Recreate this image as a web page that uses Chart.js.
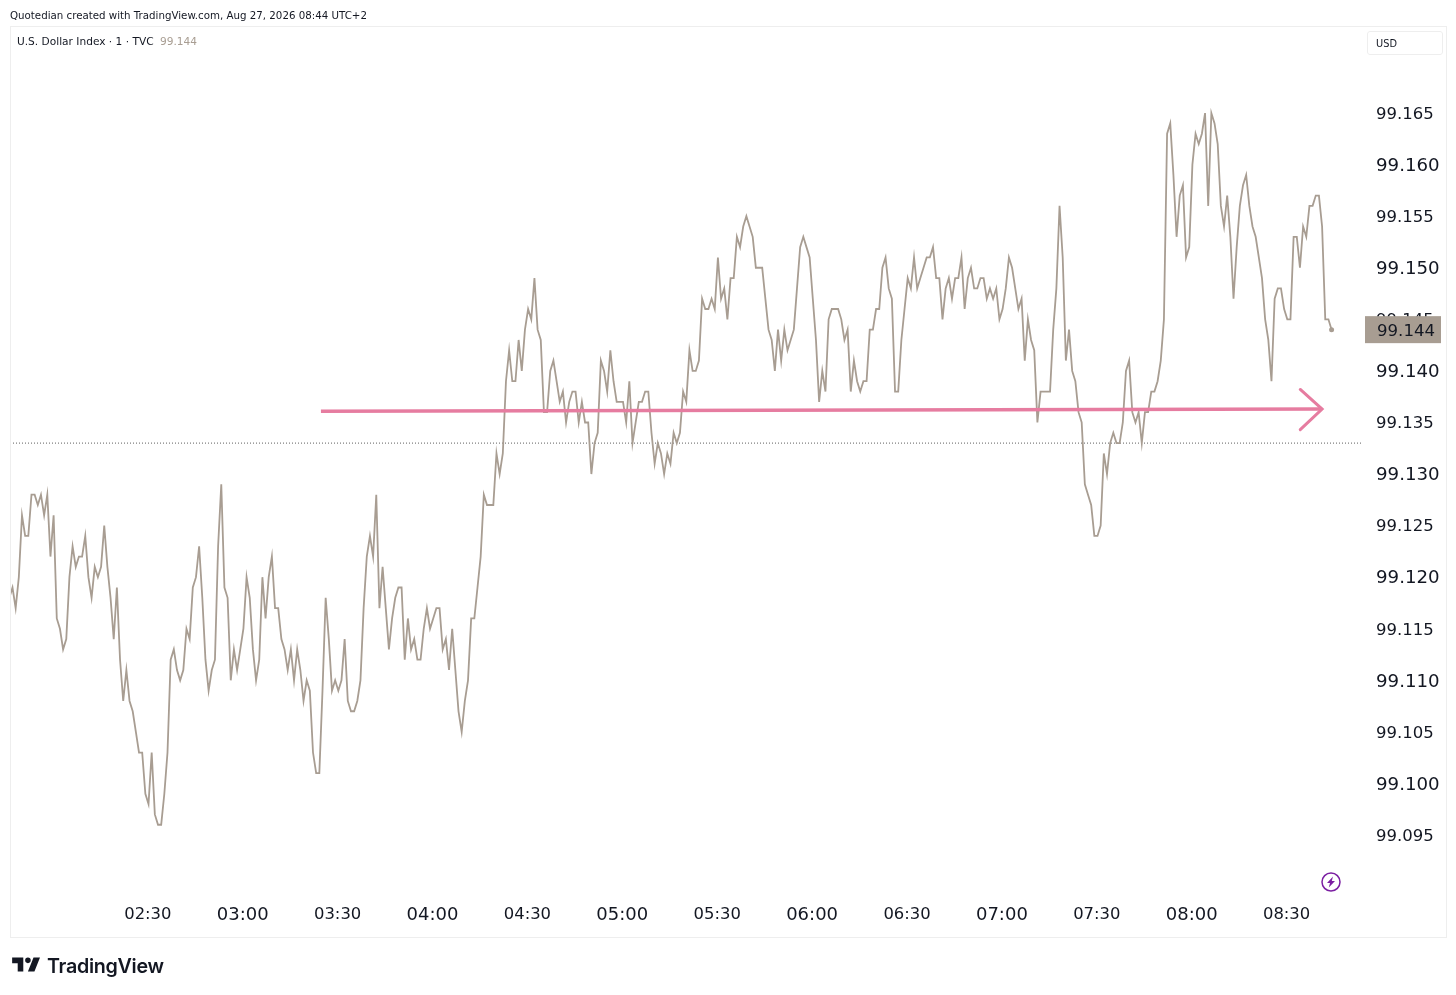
<!DOCTYPE html>
<html>
<head>
<meta charset="utf-8">
<title>U.S. Dollar Index</title>
<script src="https://cdn.jsdelivr.net/npm/chart.js@4"></script>
<style>
    html, body { margin: 0; padding: 0; background: #fff; }
    body { width: 1456px; height: 995px; position: relative; overflow: hidden; font-family: 'DejaVu Sans', sans-serif; color: #131722; }
    #wrap { position: absolute; left: 0; top: 0; width: 1456px; height: 995px; }
    #frame { position: absolute; left: 10px; top: 26px; width: 1435px; height: 910px; border: 1px solid #eeeeee; }
    .txt { position: absolute; white-space: nowrap; }
    #head { left: 10px; top: 8px; font-size: 10.25px; line-height: 14px; }
    #legend { left: 17px; top: 34px; font-size: 10.6px; line-height: 14px; }
    #legend span { color: #a89d92; margin-left: 3px; }
    #usd { left: 1367px; top: 31px; width: 66px; height: 22px; padding-left: 8px; line-height: 23px; font-size: 9.8px; border: 1px solid #eeeeee; border-radius: 3px; }
    #brand { left: 47px; top: 952px; font-family: Inter, sans-serif; font-weight: 600; font-size: 19.7px; line-height: 28px; letter-spacing: -0.3px; }
    #logo { position: absolute; left: 10px; top: 952px; }
    #bolt { position: absolute; left: 1320px; top: 871px; }
</style>
</head>
<body>
<div id="wrap"><canvas id="dxyChart"></canvas></div>
<div id="frame"></div>
<div class="txt" id="head">Quotedian created with TradingView.com, Aug 27, 2026 08:44 UTC+2</div>
<div class="txt" id="legend">U.S. Dollar Index · 1 · TVC <span>99.144</span></div>
<div class="txt" id="usd">USD</div>
<svg id="logo" width="34" height="26" viewBox="0 0 36 28"><path fill="#131722" d="M14 6H2v6h6v9h6V6zm12 15h-7l6-15h7l-6 15zm-7-9a3 3 0 1 0 0-6 3 3 0 0 0 0 6z"/></svg>
<div class="txt" id="brand">TradingView</div>
<svg id="bolt" width="22" height="22" viewBox="0 0 22 22"><circle cx="11" cy="11" r="9" fill="none" stroke="#7b1fa2" stroke-width="1.5"/><path fill="#7b1fa2" d="M13 5.5 7 12h3l-1.2 4.5L15 10h-3.2z"/></svg>
<script>
// 1 minute closes, first bar is 01:46
const firstMinute = 106;
const closes = [
    99.118, 99.119, 99.117, 99.120, 99.126, 99.124, 99.124, 99.128, 99.128, 99.127,
    99.128, 99.126, 99.128, 99.122, 99.126, 99.116, 99.115, 99.113, 99.114, 99.120,
    99.123, 99.121, 99.122, 99.122, 99.124, 99.120, 99.118, 99.121, 99.120, 99.121,
    99.125, 99.121, 99.118, 99.114, 99.119, 99.112, 99.108, 99.111, 99.108, 99.107,
    99.105, 99.103, 99.103, 99.099, 99.098, 99.103, 99.097, 99.096, 99.096, 99.099,
    99.103, 99.112, 99.113, 99.111, 99.110, 99.111, 99.115, 99.114, 99.119, 99.120,
    99.123, 99.118, 99.112, 99.109, 99.111, 99.112, 99.123, 99.129, 99.119, 99.118,
    99.110, 99.113, 99.111, 99.113, 99.115, 99.120, 99.118, 99.113, 99.110, 99.112,
    99.120, 99.116, 99.120, 99.122, 99.117, 99.117, 99.114, 99.113, 99.111, 99.113,
    99.110, 99.113, 99.111, 99.108, 99.110, 99.109, 99.103, 99.101, 99.101, 99.109,
    99.118, 99.114, 99.109, 99.110, 99.109, 99.110, 99.114, 99.108, 99.107, 99.107,
    99.108, 99.110, 99.117, 99.122, 99.124, 99.122, 99.128, 99.117, 99.121, 99.117,
    99.113, 99.116, 99.118, 99.119, 99.119, 99.112, 99.116, 99.113, 99.114, 99.112,
    99.112, 99.115, 99.117, 99.115, 99.116, 99.117, 99.117, 99.113, 99.114, 99.111,
    99.115, 99.111, 99.107, 99.105, 99.108, 99.110, 99.116, 99.116, 99.119, 99.122,
    99.128, 99.127, 99.127, 99.127, 99.132, 99.130, 99.132, 99.139, 99.142, 99.139,
    99.139, 99.143, 99.140, 99.144, 99.146, 99.145, 99.149, 99.144, 99.143, 99.136,
    99.136, 99.140, 99.141, 99.139, 99.137, 99.138, 99.135, 99.137, 99.138, 99.138,
    99.135, 99.137, 99.135, 99.135, 99.130, 99.133, 99.134, 99.141, 99.140, 99.138,
    99.142, 99.139, 99.137, 99.137, 99.137, 99.135, 99.139, 99.133, 99.135, 99.137,
    99.137, 99.138, 99.138, 99.134, 99.131, 99.133, 99.132, 99.130, 99.132, 99.131,
    99.134, 99.133, 99.134, 99.138, 99.137, 99.142, 99.140, 99.140, 99.141, 99.147,
    99.146, 99.146, 99.147, 99.146, 99.151, 99.147, 99.148, 99.145, 99.149, 99.149,
    99.153, 99.152, 99.154, 99.155, 99.154, 99.153, 99.150, 99.150, 99.150, 99.147,
    99.144, 99.143, 99.140, 99.144, 99.141, 99.144, 99.142, 99.143, 99.144, 99.148,
    99.152, 99.153, 99.152, 99.151, 99.147, 99.143, 99.137, 99.140, 99.138, 99.145,
    99.146, 99.146, 99.146, 99.145, 99.143, 99.144, 99.138, 99.141, 99.139, 99.138,
    99.139, 99.139, 99.144, 99.144, 99.146, 99.146, 99.150, 99.151, 99.148, 99.147,
    99.138, 99.138, 99.143, 99.146, 99.149, 99.148, 99.151, 99.148, 99.149, 99.150,
    99.151, 99.151, 99.152, 99.149, 99.149, 99.145, 99.148, 99.149, 99.147, 99.149,
    99.149, 99.151, 99.146, 99.149, 99.150, 99.148, 99.148, 99.149, 99.149, 99.147,
    99.148, 99.147, 99.148, 99.145, 99.146, 99.148, 99.151, 99.150, 99.148, 99.146,
    99.147, 99.141, 99.145, 99.143, 99.142, 99.135, 99.138, 99.138, 99.138, 99.138,
    99.144, 99.148, 99.156, 99.151, 99.141, 99.144, 99.140, 99.139, 99.136, 99.135,
    99.129, 99.128, 99.127, 99.124, 99.124, 99.125, 99.132, 99.130, 99.133, 99.134,
    99.133, 99.133, 99.135, 99.140, 99.141, 99.136, 99.135, 99.136, 99.133, 99.136,
    99.136, 99.138, 99.138, 99.139, 99.141, 99.145, 99.163, 99.164, 99.159, 99.153,
    99.157, 99.158, 99.151, 99.152, 99.160, 99.163, 99.162, 99.163, 99.165, 99.156,
    99.165, 99.164, 99.162, 99.156, 99.154, 99.157, 99.153, 99.147, 99.152, 99.156,
    99.158, 99.159, 99.156, 99.154, 99.153, 99.151, 99.149, 99.145, 99.143, 99.139,
    99.147, 99.148, 99.148, 99.146, 99.145, 99.145, 99.153, 99.153, 99.150, 99.154,
    99.153, 99.156, 99.156, 99.157, 99.157, 99.154, 99.145, 99.145, 99.144
];

const priceTicks = [99.095, 99.100, 99.105, 99.110, 99.115, 99.120, 99.125, 99.130, 99.135, 99.140, 99.145, 99.150, 99.155, 99.160, 99.165];
const timeTicks = ['02:30', '03:00', '03:30', '04:00', '04:30', '05:00', '05:30', '06:00', '06:30', '07:00', '07:30', '08:00', '08:30'];

// hand drawn arrow and the previous close line
const prevClose = 99.133;
const shaftX = [204.5, 521];
const shaftY = [99.1361, 99.1363];
const headX = [514.1, 521, 514.1];
const headY = [99.1382, 99.1363, 99.1343];

const xMin = 106.21;
const xMax = 533.3;
const yMin = 99.08909;
const yMax = 99.17344;

const lineColor = '#a89d92';
const pink = '#e67ca0';

const toMinutes = label => {
    const parts = label.split(':');
    return Number(parts[0]) * 60 + Number(parts[1]);
};

const toLabel = minutes => {
    const h = String(Math.floor(minutes / 60)).padStart(2, '0');
    const m = String(minutes % 60).padStart(2, '0');
    return h + ':' + m;
};

const zip = (xs, ys) => xs.map((x, i) => ({ x: x, y: ys[i] }));

const lastPriceBadge = {
    id: 'lastPriceBadge',
    afterDraw(chart) {
        const ctx = chart.ctx;
        const last = closes[closes.length - 1];
        const y = chart.scales.y.getPixelForValue(last);
        ctx.save();
        ctx.fillStyle = lineColor;
        ctx.fillRect(1365, y - 13.5, 76, 27);
        ctx.fillStyle = '#131722';
        ctx.font = '16.6px "DejaVu Sans"';
        ctx.textBaseline = 'middle';
        ctx.fillText(last.toFixed(3), 1377, y + 2);
        ctx.restore();
    },
};

const plainLine = {
    pointRadius: 0,
    tension: 0,
    fill: false,
};

new Chart(document.getElementById('dxyChart'), {
    type: 'line',
    plugins: [lastPriceBadge],
    data: {
        datasets: [
            { ...plainLine, data: zip(shaftX, shaftY), borderColor: pink, borderWidth: 3.5 },
            { ...plainLine, data: zip(headX, headY), borderColor: pink, borderWidth: 3, borderCapStyle: 'round' },
            {
                data: closes.map((c, i) => ({ x: firstMinute + i, y: c })),
                borderColor: lineColor,
                borderWidth: 1.8,
                tension: 0,
                fill: false,
                pointRadius: ctx => (ctx.dataIndex === closes.length - 1 ? 2.5 : 0),
                pointBackgroundColor: lineColor,
                pointBorderWidth: 0,
            },
            { ...plainLine, data: zip([xMin, xMax], [prevClose, prevClose]), borderColor: '#5f5f5f', borderWidth: 1, borderDash: [1, 2] },
        ],
    },
    options: {
        responsive: true,
        maintainAspectRatio: false,
        animation: false,
        events: [],
        layout: { padding: { left: 10, top: 26, right: 0, bottom: 0 } },
        plugins: { legend: { display: false }, tooltip: { enabled: false } },
        scales: {
            x: {
                type: 'linear',
                min: xMin,
                max: xMax,
                grid: { display: false, drawTicks: false },
                border: { display: false },
                afterBuildTicks: axis => { axis.ticks = timeTicks.map(t => ({ value: toMinutes(t) })); },
                afterFit: axis => { axis.height = 99; },
                ticks: {
                    autoSkip: false,
                    maxRotation: 0,
                    padding: 9,
                    labelOffset: -0.7,
                    color: '#131722',
                    font: ctx => ({ family: 'DejaVu Sans', size: ctx.tick && ctx.tick.value % 60 === 0 ? 18 : 16.4 }),
                    callback: value => toLabel(value),
                },
            },
            y: {
                position: 'right',
                min: yMin,
                max: yMax,
                grid: { display: false, drawTicks: false },
                border: { display: false },
                afterBuildTicks: axis => { axis.ticks = priceTicks.map(v => ({ value: v })); },
                afterFit: axis => { axis.width = 95; },
                ticks: {
                    crossAlign: 'near',
                    padding: 15,
                    labelOffset: 1.5,
                    color: '#131722',
                    font: ctx => ({ family: 'DejaVu Sans', size: ctx.tick && Math.round(ctx.tick.value * 1000) % 10 === 0 ? 18.2 : 16.5 }),
                    callback: value => value.toFixed(3),
                },
            },
        },
    },
});
</script>
</body>
</html>
